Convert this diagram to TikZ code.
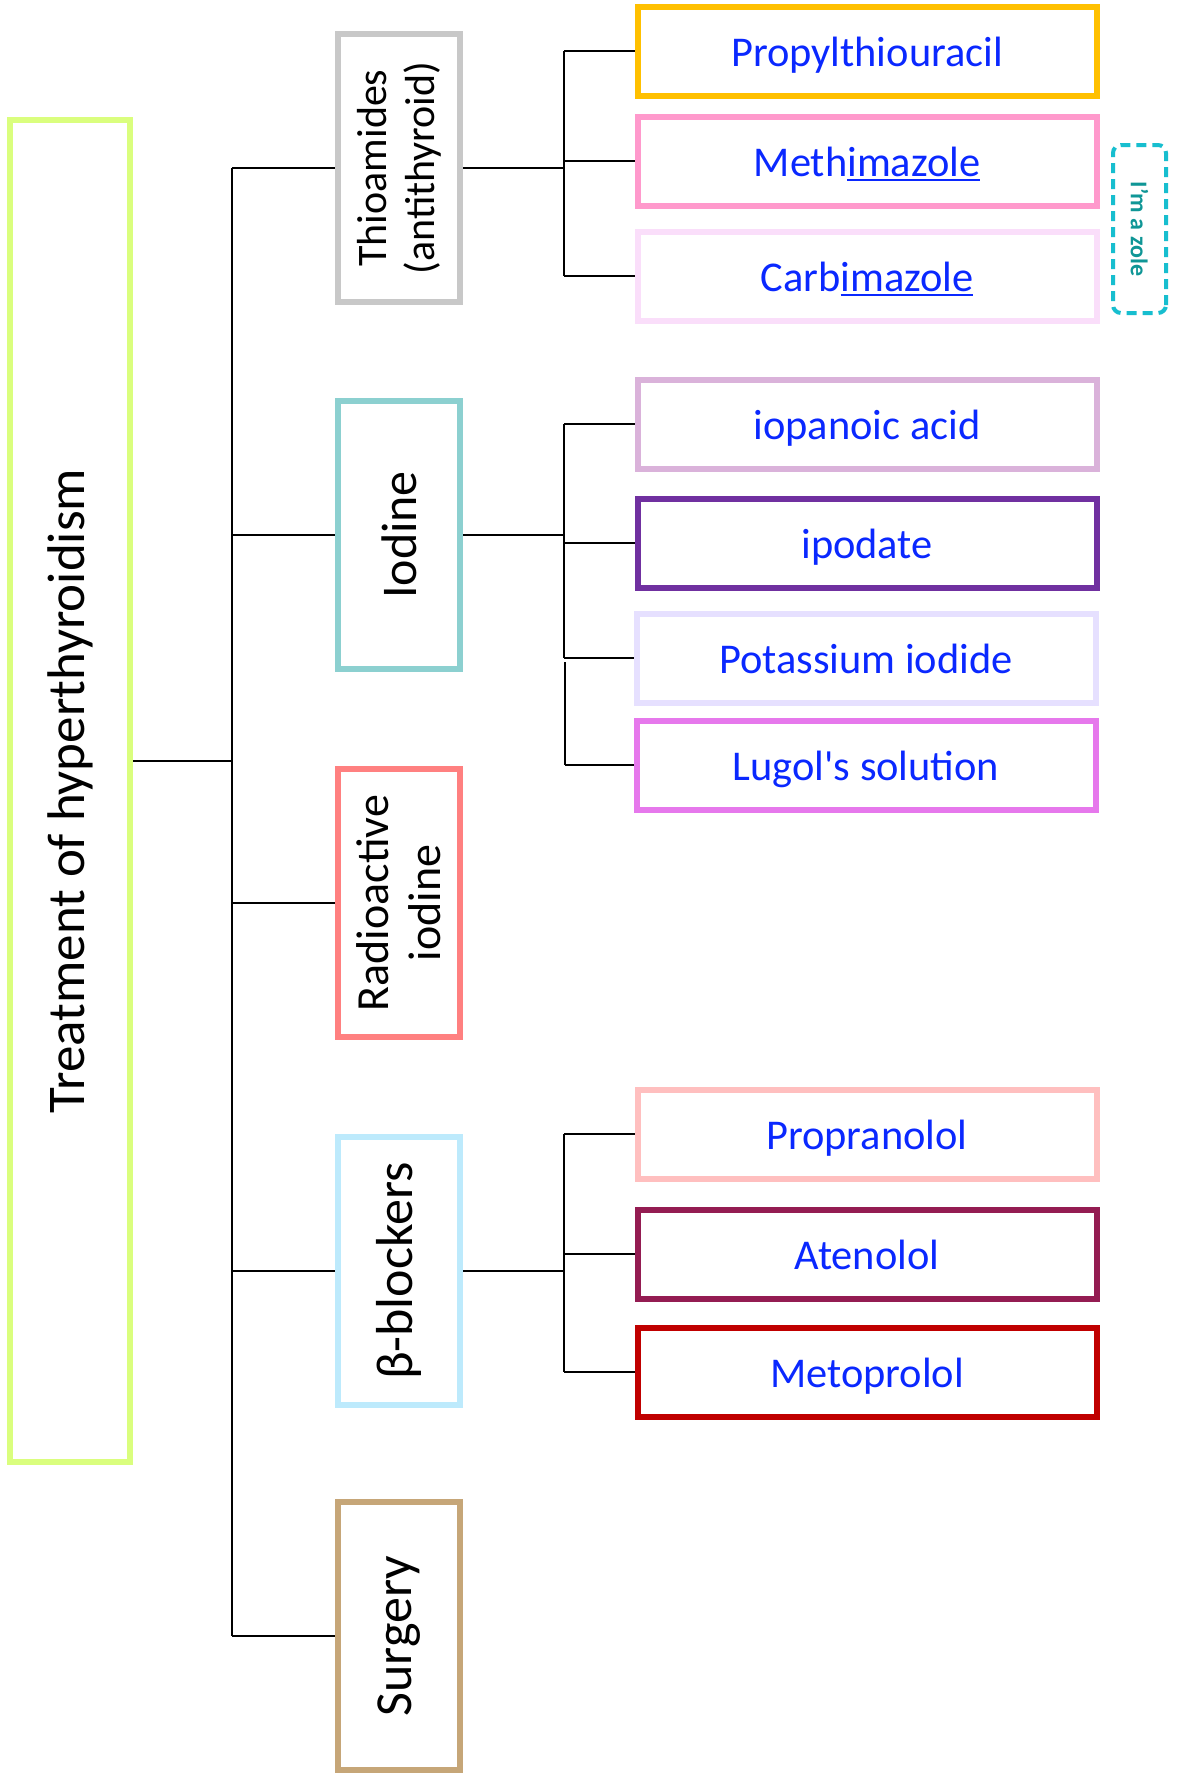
\documentclass[tikz,border=0pt]{standalone}
\usepackage{fontspec}
\setmainfont{Carlito}

\definecolor{linkblue}{RGB}{10,40,255}
\definecolor{limegreen}{RGB}{218,254,126}
\definecolor{thiogray}{RGB}{200,200,200}
\definecolor{iodteal}{RGB}{140,208,208}
\definecolor{radsalmon}{RGB}{255,128,128}
\definecolor{betablue}{RGB}{189,234,252}
\definecolor{surgtan}{RGB}{198,166,120}
\definecolor{propylgold}{RGB}{255,192,0}
\definecolor{methipink}{RGB}{255,153,204}
\definecolor{carbipink}{RGB}{250,222,250}
\definecolor{iopanmauve}{RGB}{218,178,218}
\definecolor{ipodpurple}{RGB}{112,48,160}
\definecolor{potaslav}{RGB}{230,224,255}
\definecolor{lugolviolet}{RGB}{230,120,236}
\definecolor{propralight}{RGB}{255,191,191}
\definecolor{atenomaroon}{RGB}{148,28,82}
\definecolor{metopred}{RGB}{192,0,0}
\definecolor{zolecyan}{RGB}{23,190,207}
\definecolor{zoleteal}{RGB}{15,150,150}

% underline of the zole part
\newcommand{\ulzole}[1]{\setbox0\hbox{#1}\rlap{\rule[-2.5pt]{\wd0}{1.2pt}}#1}

\begin{document}
\begin{tikzpicture}[x=0.5pt,y=-0.5pt,
    link/.style={line width=1.2pt},
    box/.style={draw,line width=3pt,fill=white,inner sep=0pt,align=center},
    catbox/.style={box,rotate=90,minimum width=134pt,minimum height=61pt,
        font=\fontsize{25}{29}\selectfont},
    drugbox/.style={box,minimum width=229.5pt,minimum height=44.5pt,
        text height=17pt,text depth=2pt,
        text=linkblue,font=\fontsize{21.2}{25}\selectfont}]

    \fill[white] (0,0) rectangle (1177,1773);
    \useasboundingbox (0,0) rectangle (1177,1773);

    % Main box
    \node[box,rotate=90,draw=limegreen,minimum width=671pt,minimum height=60pt,
        font=\fontsize{26.5}{30}\selectfont] (treat) at (70,791) {Treatment of hyperthyroidism};
    \coordinate (jmain) at (232,761);

    % Categories
    \node[catbox,draw=thiogray,font=\fontsize{21}{24}\selectfont] (thio) at (399,168) {Thioamides\\(antithyroid)};
    \node[catbox,draw=iodteal] (iod) at (399,535) {Iodine};
    \node[catbox,draw=radsalmon,font=\fontsize{23}{26}\selectfont] (radio) at (399,903) {Radioactive\\iodine};
    \node[catbox,draw=betablue,font=\fontsize{26}{30}\selectfont] (beta) at (399,1271) {β-blockers};
    \node[catbox,draw=surgtan,font=\fontsize{26}{30}\selectfont] (surg) at (399,1636) {Surgery};

    % Thioamides drugs
    \node[drugbox,draw=propylgold] (propyl) at (867,51) {Propylthiouracil};
    \node[drugbox,draw=methipink] (methi) at (867,161) {Meth\ulzole{imazole}};
    \node[drugbox,draw=carbipink] (carbi) at (867,276) {Carb\ulzole{imazole}};

    % Iodine drugs
    \node[drugbox,draw=iopanmauve] (iopan) at (867,424) {iopanoic acid};
    \node[drugbox,draw=ipodpurple] (ipod) at (867,543) {ipodate};
    \node[drugbox,draw=potaslav] (potas) at (866,658) {Potassium iodide};
    \node[drugbox,draw=lugolviolet] (lugol) at (866,765) {Lugol\textquotesingle s solution};

    % beta-blocker drugs
    \node[drugbox,draw=propralight] (propra) at (867,1134) {Propranolol};
    \node[drugbox,draw=atenomaroon] (ateno) at (867,1254) {Atenolol};
    \node[drugbox,draw=metopred] (metop) at (867,1372) {Metoprolol};

    % Zole tag
    \node[draw=zolecyan,line width=2pt,dash pattern=on 5pt off 3pt,rounded corners=4pt,
        rotate=-90,minimum width=84pt,minimum height=26.5pt,inner sep=0pt,
        text=zoleteal,font=\bfseries\fontsize{12}{14}\selectfont] (zole) at (1139.5,229) {I’m a zole};

    % Trunk
    \draw[link] (treat.south |- jmain) -- (jmain);
    \draw[link] (thio.north -| jmain) -- (surg.north -| jmain);
    \foreach \c in {thio,iod,radio,beta,surg}
        \draw[link] (\c.north -| jmain) -- (\c.north);

    % Thioamides branch
    \coordinate (thiojn) at (564,168);
    \draw[link] (thio.south) -- (thiojn);
    \draw[link] (propyl.west -| thiojn) -- (carbi.west -| thiojn);
    \foreach \d in {propyl,methi,carbi}
        \draw[link] (\d.west -| thiojn) -- (\d.west);

    % Iodine branch
    \coordinate (iodjn) at (564,535);
    \coordinate (iodgap) at (565,662);
    \draw[link] (iod.south) -- (iodjn);
    \draw[link] (iopan.west -| iodjn) -- (potas.west -| iodjn);
    \draw[link] (iodgap) -- (lugol.west -| iodgap);
    \foreach \d in {iopan,ipod,potas}
        \draw[link] (\d.west -| iodjn) -- (\d.west);
    \draw[link] (lugol.west -| iodgap) -- (lugol.west);

    % beta-blocker branch
    \coordinate (betajn) at (564,1271);
    \draw[link] (beta.south) -- (betajn);
    \draw[link] (propra.west -| betajn) -- (metop.west -| betajn);
    \foreach \d in {propra,ateno,metop}
        \draw[link] (\d.west -| betajn) -- (\d.west);
\end{tikzpicture}
\end{document}
